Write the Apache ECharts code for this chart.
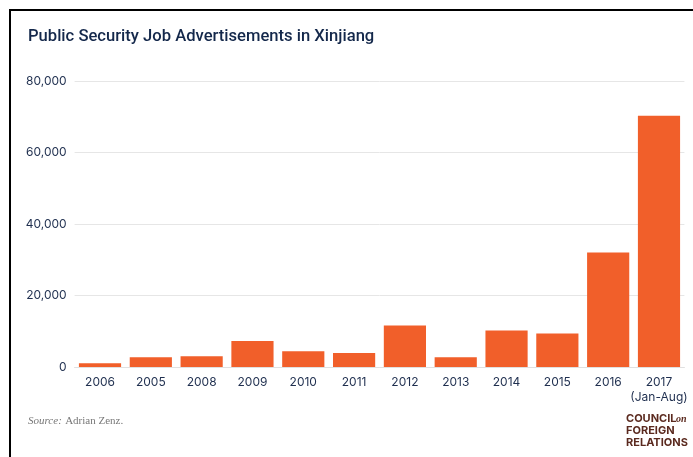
<!DOCTYPE html>
<html><head><meta charset="utf-8">
<style>html,body{margin:0;padding:0;background:#fff}#c{width:693px;height:457px}</style>
<script src="https://cdn.jsdelivr.net/npm/echarts@6/dist/echarts.min.js"></script>
</head><body><div id="c"></div>
<script>
var categories = ['2006','2005','2008','2009','2010','2011','2012','2013','2014','2015','2016','2017\n(Jan-Aug)'];
var adCounts = [1050, 2750, 3000, 7300, 4400, 3950, 11600, 2750, 10200, 9350, 32000, 70300];
var yTicks = [0, 20000, 40000, 60000, 80000];

var chart = echarts.init(document.getElementById('c'), null, {renderer:'canvas'});
chart.setOption({
  animation:false,
  backgroundColor:'#fff',
  title:{text:'Public Security Job Advertisements in Xinjiang', left:23, top:23, padding:5,
    textStyle:{fontFamily:'Roboto', fontSize:16.6, fontWeight:500, color:'#14284b'}},
  grid:{left:74.6, right:8.6, top:81, bottom:90, containLabel:false},
  xAxis:{type:'category', data:categories,
    axisLine:{show:true, lineStyle:{color:'#e0e0e0', width:1}},
    axisTick:{show:false},
    axisLabel:{interval:0, color:'#1f2f4f', fontFamily:'Inter', fontSize:12, margin:8, lineHeight:15}},
  yAxis:{type:'value', min:yTicks[0], max:yTicks[yTicks.length-1], interval:20000,
    axisLine:{show:false}, axisTick:{show:false},
    splitLine:{lineStyle:{color:'#e6e6e6', width:1}},
    axisLabel:{color:'#1f2f4f', fontFamily:'Inter', fontSize:12, margin:8,
      formatter:function(v){return v.toLocaleString('en-US');}}},
  series:[{type:'bar', data:adCounts, barCategoryGap:'17%',
    itemStyle:{color:'#f15f2a'}}],
  graphic:[
    {type:'rect', shape:{x:9, y:9, width:684, height:2}, style:{fill:'#000'}},
    {type:'rect', shape:{x:9, y:9, width:2, height:448}, style:{fill:'#000'}},
    {type:'text', left:28, top:415, style:{rich:{a:{fontFamily:'Liberation Serif', fontStyle:'italic', fontSize:11, fill:'#777'}, b:{fontFamily:'Liberation Serif', fontSize:11, fill:'#777'}}, text:'{a|Source:} {b|Adrian Zenz.}'}},
    {type:'text', left:626, top:413, style:{text:'COUNCIL\nFOREIGN\nRELATIONS', fontFamily:'Inter', fontWeight:'bold', fontSize:11, lineHeight:12, fill:'#5b2a1f'}},
    {type:'text', left:676, top:414, style:{text:'on', fontFamily:'Liberation Serif', fontStyle:'italic', fontWeight:'bold', fontSize:10, fill:'#5b2a1f'}}
  ]
});
</script></body></html>
